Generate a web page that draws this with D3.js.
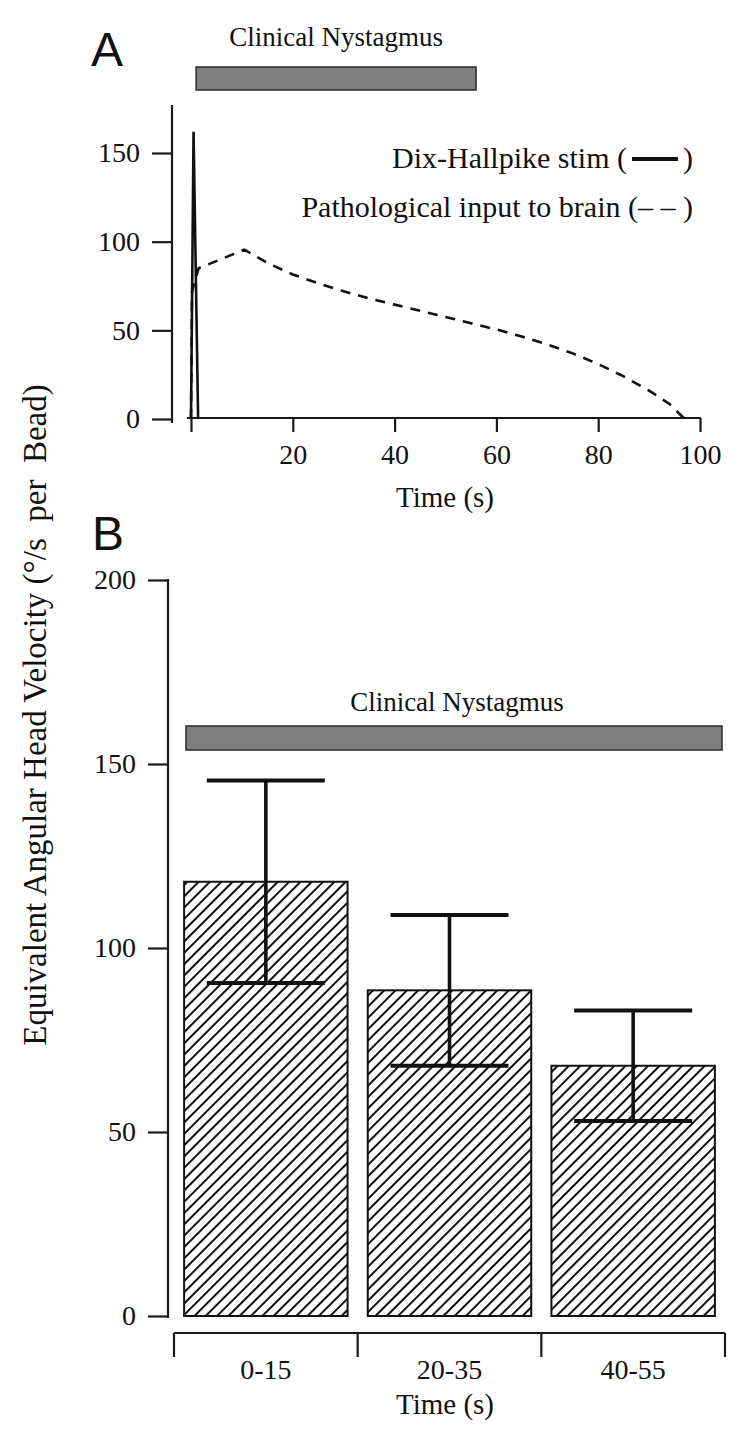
<!DOCTYPE html>
<html><head><meta charset="utf-8">
<script src="https://cdn.jsdelivr.net/npm/d3@7"></script>
<style>
html,body{margin:0;padding:0;background:#fff;}
svg text{font-family:"Liberation Serif","Times New Roman",serif;fill:#111;}
</style></head>
<body>
<script>
// ---------- Panel A data ----------
const xTicksA = [0, 20, 40, 60, 80, 100];
const xTickLabelsA = ["", "20", "40", "60", "80", "100"];
const yTicksA = [0, 50, 100, 150];
const stimTime = [0, 0.5, 1.4];
const stimValue = [0, 162, 0];
const pathTime = [0, 0.2, 1.5, 10.5, 15, 20, 25, 30, 35, 40, 45, 50, 55, 60, 65, 70, 75, 80, 85, 90, 94, 97];
const pathValue = [0, 72, 85, 95.5, 88, 81.5, 76.5, 72, 68, 64.5, 61, 57.5, 54, 50.5, 46.5, 42, 37, 31, 24, 16, 8.5, 0];
const nystagmusA = [1, 56];

// ---------- Panel B data ----------
const categories = ["0-15", "20-35", "40-55"];
const means = [118, 88.5, 68];
const errors = [27.5, 20.5, 15];
const yTicksB = [0, 50, 100, 150, 200];

const W = 752, H = 1431;
const svg = d3.select("body").append("svg").attr("width", W).attr("height", H);

const defs = svg.append("defs");
const pat = defs.append("pattern").attr("id", "hatch")
  .attr("patternUnits", "userSpaceOnUse").attr("width", 8).attr("height", 8)
  .attr("patternTransform", "rotate(45)");
pat.append("rect").attr("width", 8).attr("height", 8).attr("fill", "#fff");
pat.append("line").attr("x1", 4).attr("y1", 0).attr("x2", 4).attr("y2", 8)
  .attr("stroke", "#111").attr("stroke-width", 2);

const axisColor = "#1a1a1a";

// ================= Panel A =================
const xA = d3.scaleLinear().domain([0, 100]).range([191, 700]);
const yA = d3.scaleLinear().domain([0, 150]).range([419, 153]);

svg.append("text").attr("x", 91).attr("y", 66)
  .style("font-family", "'Liberation Sans',Arial,sans-serif").style("font-size", "48px").text("A");

// Clinical nystagmus bar A
svg.append("rect").attr("x", xA(nystagmusA[0])).attr("y", 67)
  .attr("width", xA(nystagmusA[1]) - xA(nystagmusA[0])).attr("height", 23)
  .attr("fill", "#808080").attr("stroke", "#2a2a2a").attr("stroke-width", 1.5);
svg.append("text").attr("x", (xA(nystagmusA[0]) + xA(nystagmusA[1])) / 2).attr("y", 46)
  .attr("text-anchor", "middle").style("font-size", "27px").text("Clinical Nystagmus");

// y axis A
const gyA = svg.append("g").attr("transform", "translate(172,0)")
  .call(d3.axisLeft(yA).tickValues(yTicksA).tickSize(20).tickPadding(12).tickSizeOuter(0));
gyA.select(".domain").remove();
gyA.selectAll(".tick line").attr("stroke", axisColor).attr("stroke-width", 2.2);
gyA.selectAll(".tick text").style("font-size", "28px").style("font-family", "'Liberation Serif',serif").attr("fill", "#111");
svg.append("line").attr("x1", 172).attr("x2", 172).attr("y1", 105).attr("y2", 423)
  .attr("stroke", axisColor).attr("stroke-width", 2.2);

// x axis A
const gxA = svg.append("g").attr("transform", "translate(0," + (yA(0) - 1) + ")")
  .call(d3.axisBottom(xA).tickValues(xTicksA).tickFormat((d, i) => xTickLabelsA[i])
    .tickSize(14).tickPadding(12).tickSizeOuter(0));
gxA.select(".domain").remove();
gxA.selectAll(".tick line").attr("stroke", axisColor).attr("stroke-width", 2.2);
gxA.selectAll(".tick text").style("font-size", "28px").style("font-family", "'Liberation Serif',serif").attr("fill", "#111");
svg.append("line").attr("x1", 187).attr("x2", xA(100) + 1).attr("y1", yA(0) - 1).attr("y2", yA(0) - 1)
  .attr("stroke", axisColor).attr("stroke-width", 2.2);
svg.append("text").attr("x", 445).attr("y", 507).attr("text-anchor", "middle")
  .style("font-size", "29px").text("Time (s)");

// lines
const lineA = d3.line().x(d => xA(d[0])).y(d => yA(d[1]));
svg.append("path").datum(pathTime.map((t, i) => [t, pathValue[i]]))
  .attr("d", lineA).attr("fill", "none").attr("stroke", "#111")
  .attr("stroke-width", 2.6).attr("stroke-dasharray", "10,8");
svg.append("path").datum(stimTime.map((t, i) => [t, stimValue[i]]))
  .attr("d", lineA).attr("fill", "none").attr("stroke", "#111")
  .attr("stroke-width", 2.6).attr("stroke-linejoin", "miter");

// legend
svg.append("text").attr("x", 693).attr("y", 168).attr("text-anchor", "end")
  .style("font-size", "30px").text(")");
svg.append("line").attr("x1", 632).attr("x2", 678).attr("y1", 159).attr("y2", 159)
  .attr("stroke", "#111").attr("stroke-width", 4);
svg.append("text").attr("x", 627).attr("y", 168).attr("text-anchor", "end")
  .style("font-size", "30px").style("white-space", "pre").text("Dix-Hallpike stim (");
svg.append("text").attr("x", 693).attr("y", 217).attr("text-anchor", "end")
  .style("font-size", "30px").style("white-space", "pre").text("Pathological input to brain (\u2013 \u2013 )");

// ================= Panel B =================
svg.append("text").attr("x", 92).attr("y", 550)
  .style("font-family", "'Liberation Sans',Arial,sans-serif").style("font-size", "48px").text("B");

const xB = d3.scaleBand().domain(categories).range([174, 725]).paddingInner(0.11).paddingOuter(0.055);
const yB = d3.scaleLinear().domain([0, 200]).range([1316, 580]);

// y axis B
const gyB = svg.append("g").attr("transform", "translate(168,0)")
  .call(d3.axisLeft(yB).tickValues(yTicksB).tickSize(20).tickPadding(12).tickSizeOuter(0));
gyB.select(".domain").remove();
gyB.selectAll(".tick line").attr("stroke", axisColor).attr("stroke-width", 2.2);
gyB.selectAll(".tick text").style("font-size", "28px").style("font-family", "'Liberation Serif',serif").attr("fill", "#111");
svg.append("line").attr("x1", 168).attr("x2", 168).attr("y1", yB(200) - 1).attr("y2", yB(0) + 2)
  .attr("stroke", axisColor).attr("stroke-width", 2.2);

// x axis B
const step = xB.step();
const x0 = xB.range()[0];
const boundaries = d3.range(categories.length + 1).map(i => x0 + i * step);
const xAxisY = 1333;
svg.append("line").attr("x1", boundaries[0]).attr("x2", boundaries[boundaries.length - 1])
  .attr("y1", xAxisY).attr("y2", xAxisY).attr("stroke", axisColor).attr("stroke-width", 2.2);
svg.selectAll(".btick").data(boundaries).join("line").attr("class", "btick")
  .attr("x1", d => d).attr("x2", d => d).attr("y1", xAxisY).attr("y2", xAxisY + 24)
  .attr("stroke", axisColor).attr("stroke-width", 2.2);
svg.selectAll(".blab").data(categories).join("text").attr("class", "blab")
  .attr("x", d => xB(d) + xB.bandwidth() / 2).attr("y", 1379).attr("text-anchor", "middle")
  .style("font-size", "28px").text(d => d);
svg.append("text").attr("x", 445).attr("y", 1414).attr("text-anchor", "middle")
  .style("font-size", "29px").text("Time (s)");

// Clinical nystagmus bar B
svg.append("rect").attr("x", 186).attr("y", 726).attr("width", 722 - 186).attr("height", 24)
  .attr("fill", "#808080").attr("stroke", "#2a2a2a").attr("stroke-width", 1.5);
svg.append("text").attr("x", 457).attr("y", 711).attr("text-anchor", "middle")
  .style("font-size", "27px").text("Clinical Nystagmus");

// bars
svg.selectAll(".bar").data(categories).join("rect").attr("class", "bar")
  .attr("x", d => xB(d)).attr("width", xB.bandwidth())
  .attr("y", (d, i) => yB(means[i])).attr("height", (d, i) => yB(0) - yB(means[i]))
  .attr("fill", "url(#hatch)").attr("stroke", "#111").attr("stroke-width", 2);

// error bars
const capHalf = 59;
categories.forEach((c, i) => {
  const cx = xB(c) + xB.bandwidth() / 2;
  const hi = yB(means[i] + errors[i]), lo = yB(means[i] - errors[i]);
  svg.append("line").attr("x1", cx).attr("x2", cx).attr("y1", hi).attr("y2", lo)
    .attr("stroke", "#111").attr("stroke-width", 3.6);
  [hi, lo].forEach(y => svg.append("line").attr("x1", cx - capHalf).attr("x2", cx + capHalf)
    .attr("y1", y).attr("y2", y).attr("stroke", "#111").attr("stroke-width", 4));
});

// y label
svg.append("text").attr("transform", "translate(46,715) rotate(-90)")
  .attr("text-anchor", "middle").style("font-size", "33px").style("white-space", "pre")
  .text("Equivalent Angular Head Velocity (\u00b0/s  per  Bead)");
</script>
</body></html>
